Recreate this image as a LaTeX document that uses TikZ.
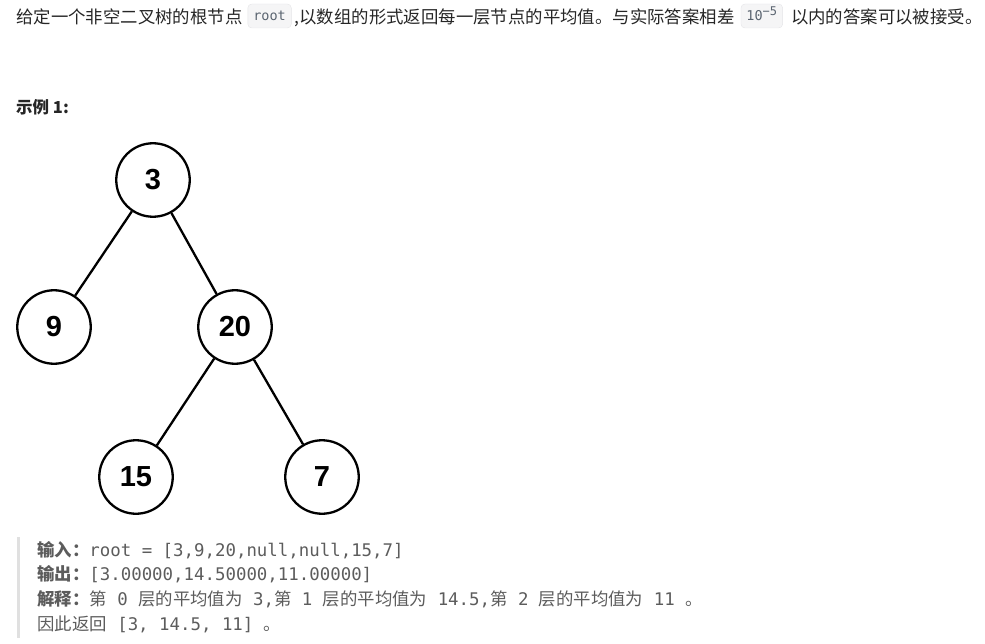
\documentclass[tikz,border=0pt]{standalone}
\usepackage{fontspec}
\setmainfont{Liberation Sans}
\setmonofont{DejaVu Sans Mono}
\newfontfamily\cjk{Noto Sans CJK SC}
\usetikzlibrary{positioning}
\definecolor{maintext}{HTML}{262626}
\definecolor{subtext}{HTML}{5C5C5C}
\definecolor{codetext}{HTML}{5A6470}
\definecolor{codefill}{HTML}{F5F5F6}
\definecolor{codeedge}{HTML}{E4E4E7}
\definecolor{quotebar}{HTML}{E0E0E0}
\newcommand\zh[1]{{\cjk #1}}
\newcommand\zhb[1]{{\cjk\bfseries #1}}
\tikzset{treenode/.style={circle,draw,line width=2.3pt,minimum size=73.5pt,inner sep=0pt,
    font=\fontsize{29}{29}\selectfont\bfseries},
    treeedge/.style={line width=2.3pt},
    prose/.style={inner sep=0pt,anchor=base west,text=maintext,
    font=\fontsize{17.4}{20}\selectfont\cjk},
    inlinecode/.style={draw=codeedge,fill=codefill,rounded corners=4pt,text=codetext,
    font=\fontsize{13.5}{13.5}\selectfont\ttfamily,inner xsep=5.5pt,inner ysep=4pt,
    text height=12.5pt,text depth=3.5pt,anchor=base west},
    sample/.style={inner sep=0pt,anchor=base west,text=subtext,
    font=\fontsize{17.4}{20}\selectfont\ttfamily}}

\begin{document}
\begin{tikzpicture}[x=1pt,y=-1pt]
    \useasboundingbox (0,0) rectangle (985,644);
    % question text
    \node[prose] (intro1) at (16,23.5) {给定一个非空二叉树的根节点};
    \node[inlinecode, right=5pt of intro1.base east, anchor=base west, yshift=3pt] (rootcode) {root};
    \node[prose, right=3pt of rootcode.base east, anchor=base west, yshift=-3pt] (intro2)
        {,以数组的形式返回每一层节点的平均值。与实际答案相差};
    \node[inlinecode, right=6pt of intro2.base east, anchor=base west, yshift=3pt] (tencode)
        {10\raisebox{5pt}{\fontsize{12}{12}\selectfont −5}};
    \node[prose, right=8pt of tencode.base east, anchor=base west, yshift=-3pt] (intro3)
        {以内的答案可以被接受。};
    \node[prose, font=\fontsize{16.5}{20}\selectfont\cjk\bfseries] (exampletitle) at (16,114) {示例 1:};
    % tree
    \node[treenode] (n3) at (153,180) {3};
    \node[treenode] (n9) at (54,327) {9};
    \node[treenode] (n20) at (235,327) {20};
    \node[treenode] (n15) at (136,477) {15};
    \node[treenode] (n7) at (322,477) {7};
    \draw[treeedge] (n3) -- (n9);
    \draw[treeedge] (n3) -- (n20);
    \draw[treeedge] (n20) -- (n15);
    \draw[treeedge] (n20) -- (n7);
    % example block
    \draw[quotebar, line width=3pt] (18,537) -- (18,638);
    \node[sample] (inputline) at (37,556) {\zhb{输入：}root = [3,9,20,null,null,15,7]};
    \node[sample] (outputline) at (37,580) {\zhb{输出：}[3.00000,14.50000,11.00000]};
    \node[sample] (explainline) at (37,605) {\zhb{解释：}\zh{第} 0 \zh{层的平均值为} 3,\zh{第} 1 \zh{层的平均值为} 14.5,\zh{第} 2 \zh{层的平均值为} 11 \zh{。}};
    \node[sample] (returnline) at (37,630) {\zh{因此返回} [3, 14.5, 11] \zh{。}};
\end{tikzpicture}
\end{document}
